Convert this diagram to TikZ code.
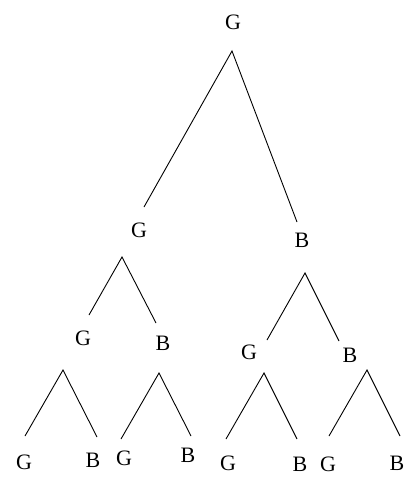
\documentclass[tikz,border=0pt]{standalone}
\usepackage{fontspec}
\setmainfont{Liberation Serif}
\begin{document}
\begin{tikzpicture}[x=1pt,y=-1pt,
  lbl/.style={inner sep=0pt,font=\fontsize{22}{22}\selectfont},
  edge/.style={line width=0.9pt}]
\useasboundingbox (0,0) rectangle (409,477);
% labels
\node[lbl] (r) at (233,22) {G};
\node[lbl] (a) at (139,230) {G};
\node[lbl] (b) at (302,240) {B};
\node[lbl] (aa) at (83,338) {G};
\node[lbl] (ab) at (163,343) {B};
\node[lbl] (ba) at (249,352) {G};
\node[lbl] (bb) at (350,355) {B};
\node[lbl] (aaa) at (24,462) {G};
\node[lbl] (aab) at (93,460) {B};
\node[lbl] (aba) at (124,458) {G};
\node[lbl] (abb) at (188,455) {B};
\node[lbl] (baa) at (228,463) {G};
\node[lbl] (bab) at (300,464) {B};
\node[lbl] (bba) at (328,464) {G};
\node[lbl] (bbb) at (397,463) {B};
% apexes and branch ends
\coordinate (rT) at (232,51);  \coordinate (rL) at (144,207); \coordinate (rR) at (297,222);
\coordinate (aT) at (122,257); \coordinate (aL) at (89,315);  \coordinate (aR) at (156,323);
\coordinate (bT) at (305,273); \coordinate (bL) at (267,340); \coordinate (bR) at (339,341);
\coordinate (aaT) at (63,370); \coordinate (aaL) at (25,436); \coordinate (aaR) at (97,437);
\coordinate (abT) at (159,373);\coordinate (abL) at (121,439);\coordinate (abR) at (191,436);
\coordinate (baT) at (264,373);\coordinate (baL) at (226,439);\coordinate (baR) at (297,439);
\coordinate (bbT) at (367,370);\coordinate (bbL) at (329,436);\coordinate (bbR) at (400,436);
\draw[edge] (rL) -- (rT) -- (rR);
\draw[edge] (aL) -- (aT) -- (aR);
\draw[edge] (bL) -- (bT) -- (bR);
\draw[edge] (aaL) -- (aaT) -- (aaR);
\draw[edge] (abL) -- (abT) -- (abR);
\draw[edge] (baL) -- (baT) -- (baR);
\draw[edge] (bbL) -- (bbT) -- (bbR);
\end{tikzpicture}
\end{document}
